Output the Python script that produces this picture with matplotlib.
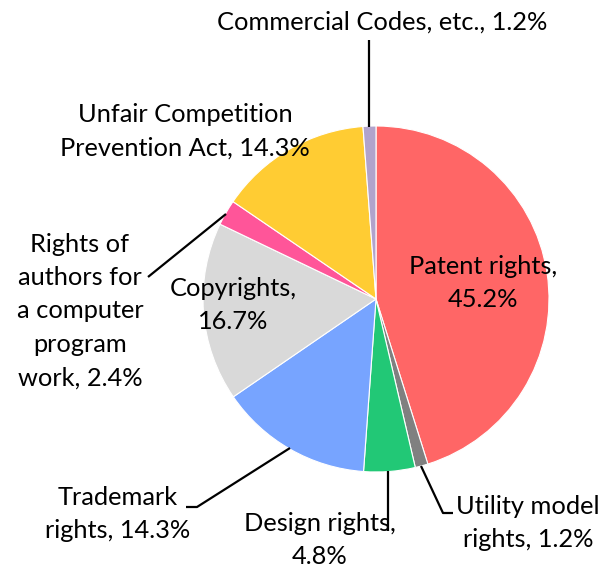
import matplotlib
matplotlib.use("Agg")
import matplotlib.pyplot as plt

labels = ["Patent rights", "Utility model rights", "Design rights", "Trademark rights",
          "Copyrights", "Rights of authors for a computer program work",
          "Unfair Competition Prevention Act", "Commercial Codes, etc."]
values = [45.2, 1.2, 4.8, 14.3, 16.7, 2.4, 14.3, 1.2]
colors = ["#FF6666", "#808080", "#22C876", "#77A4FF", "#D9D9D9", "#FF5599", "#FFCC33", "#B1A3CC"]

W, H = 610, 571
fig = plt.figure(figsize=(W / 100, H / 100), dpi=100)
ax = fig.add_axes([0, 0, 1, 1])

cx, cy, r = 376, 299, 173
# y axis is inverted below, so data-counterclockwise is visually clockwise
ax.pie(values, colors=colors, startangle=-90, counterclock=True,
       center=(cx, cy), radius=r, frame=True,
       wedgeprops=dict(linewidth=0.8, edgecolor="white"))
ax.set_xlim(0, W)
ax.set_ylim(H, 0)
ax.set_aspect("equal")
ax.axis("off")

font = dict(family=["Lato", "DejaVu Sans"], fontsize=18.3, ha="center", va="center",
            linespacing=1.55, color="black")

ax.text(382, 22, "Commercial Codes, etc., 1.2%", **font)
ax.text(185, 131, "Unfair Competition\nPrevention Act, 14.3%", **font)
ax.text(80, 311, "Rights of\nauthors for\na computer\nprogram\nwork, 2.4%", **font)
ax.text(233, 305, "Copyrights,\n16.7%", **font)
ax.text(483, 283, "Patent rights,\n45.2%", **font)
ax.text(118, 514, "Trademark\nrights, 14.3%", **font)
ax.text(320, 540, "Design rights,\n4.8%", **font)
ax.text(528, 523, "Utility model\nrights, 1.2%", **font)

lk = dict(color="black", linewidth=1.6, solid_capstyle="butt")
ax.plot([369, 369], [127, 40], **lk)
ax.plot([226, 148], [214, 277], **lk)
ax.plot([290, 197, 186], [448, 507, 507], **lk)
ax.plot([388, 388], [471, 531], **lk)
ax.plot([421, 443, 453], [466, 513, 513], **lk)

fig.savefig("out.png", dpi=100)
